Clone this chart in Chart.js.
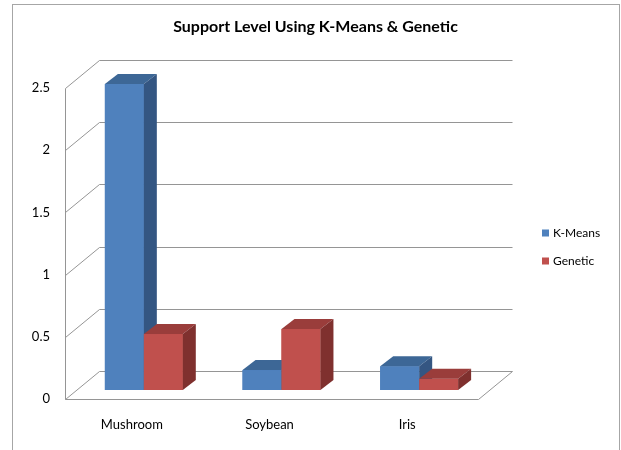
<!DOCTYPE html>
<html>
<head>
<meta charset="utf-8">
<title>Support Level Using K-Means &amp; Genetic</title>
<script src="https://cdn.jsdelivr.net/npm/chart.js@4/dist/chart.umd.min.js"></script>
<style>
  html, body { margin: 0; padding: 0; background: #ffffff; }
  #wrap { position: relative; width: 621px; height: 450px; }
</style>
</head>
<body>
<div id="wrap"><canvas id="chart" width="621" height="450"></canvas></div>
<script>
// Dataset names and measured support levels
const categories = ['Mushroom', 'Soybean', 'Iris'];
const seriesNames = ['K-Means', 'Genetic'];
const kMeansValues = [2.46, 0.16, 0.19];
const geneticValues = [0.45, 0.49, 0.09];
const valueTicks = [0, 0.5, 1, 1.5, 2, 2.5];

// Face colours for the 3-D bars: front, top, side
const faces = [
  { front: '#4f81bd', top: '#3d6796', side: '#345682' },
  { front: '#c0504d', top: '#9a3d3b', side: '#7f302e' }
];

const FONT = 'Lato, "Open Sans", sans-serif';
const FRONT = { dx: -10, dy: 9 };   // front plane relative to the bar plane
const BACK = { dx: 24, dy: -19 };   // back wall relative to the bar plane
const BAR_DEPTH = { dx: 13, dy: -10 };
const LINE = '#959595';

// Walls, floor and gridlines of the 3-D box
const boxPlugin = {
  id: 'box3d',
  beforeDraw(chart) {
    const ctx = chart.ctx;
    ctx.save();
    ctx.strokeStyle = '#a6a6a6';
    ctx.lineWidth = 1;
    ctx.strokeRect(12.5, 4.5, 607, 470);
    ctx.restore();
  },
  beforeDatasetsDraw(chart) {
    const { ctx, chartArea: a, scales: { y } } = chart;
    ctx.save();
    ctx.strokeStyle = LINE;
    ctx.lineWidth = 1;
    ctx.beginPath();
    valueTicks.forEach(v => {
      const py = Math.round(y.getPixelForValue(v));
      const fx = a.left + FRONT.dx, fy = py + FRONT.dy;
      const bx = a.left + BACK.dx, by = py + BACK.dy;
      ctx.moveTo(fx + 0.5, fy + 0.5);
      ctx.lineTo(bx + 0.5, by + 0.5);
      ctx.lineTo(a.right + BACK.dx + 0.5, by + 0.5);
    });
    // left wall front edge
    const top = Math.round(y.getPixelForValue(valueTicks[valueTicks.length - 1]));
    const zero = Math.round(y.getPixelForValue(0));
    ctx.moveTo(a.left + FRONT.dx + 0.5, top + FRONT.dy + 0.5);
    ctx.lineTo(a.left + FRONT.dx + 0.5, zero + FRONT.dy + 0.5);
    // floor front and right edges
    ctx.lineTo(a.right + FRONT.dx + 0.5, zero + FRONT.dy + 0.5);
    ctx.lineTo(a.right + BACK.dx + 0.5, zero + BACK.dy + 0.5);
    ctx.stroke();
    ctx.restore();
  },
  afterDatasetsDraw(chart) {
    const ctx = chart.ctx;
    const metas = chart.data.datasets.map((d, i) => chart.getDatasetMeta(i));
    ctx.save();
    categories.forEach((c, j) => {
      metas.forEach((meta, i) => {
        const el = meta.data[j];
        if (!el) return;
        const p = el.getProps(['x', 'y', 'base', 'width'], true);
        const l = p.x - p.width / 2, r = p.x + p.width / 2;
        const t = p.y, b = p.base;
        const f = faces[i];
        ctx.fillStyle = f.front;
        ctx.fillRect(l, t, r - l, b - t);
        ctx.fillStyle = f.top;
        ctx.beginPath();
        ctx.moveTo(l, t);
        ctx.lineTo(r, t);
        ctx.lineTo(r + BAR_DEPTH.dx, t + BAR_DEPTH.dy);
        ctx.lineTo(l + BAR_DEPTH.dx, t + BAR_DEPTH.dy);
        ctx.closePath();
        ctx.fill();
        ctx.fillStyle = f.side;
        ctx.beginPath();
        ctx.moveTo(r, t);
        ctx.lineTo(r + BAR_DEPTH.dx, t + BAR_DEPTH.dy);
        ctx.lineTo(r + BAR_DEPTH.dx, b + BAR_DEPTH.dy);
        ctx.lineTo(r, b);
        ctx.closePath();
        ctx.fill();
      });
    });
    ctx.restore();
  },
  afterDraw(chart) {
    // series key on the right
    const ctx = chart.ctx;
    ctx.save();
    ctx.font = '12px ' + FONT;
    ctx.textBaseline = 'middle';
    ctx.textAlign = 'left';
    chart.data.datasets.forEach((ds, i) => {
      const cy = 233 + i * 28;
      ctx.fillStyle = faces[i].front;
      ctx.fillRect(542, cy - 3.5, 7, 7);
      ctx.fillStyle = '#000000';
      ctx.fillText(ds.label, 553, cy);
    });
    ctx.restore();
  }
};

new Chart(document.getElementById('chart'), {
  type: 'bar',
  data: {
    labels: categories,
    datasets: [
      { label: seriesNames[0], data: kMeansValues, backgroundColor: faces[0].front, borderWidth: 0 },
      { label: seriesNames[1], data: geneticValues, backgroundColor: faces[1].front, borderWidth: 0 }
    ]
  },
  options: {
    responsive: false,
    animation: false,
    devicePixelRatio: 1,
    layout: { padding: { left: 10, right: 0, top: 0, bottom: 0 } },
    categoryPercentage: 0.566,
    barPercentage: 1,
    plugins: {
      legend: { display: false },
      tooltip: { enabled: false },
      title: {
        display: true,
        text: 'Support Level Using K-Means & Genetic',
        color: '#000000',
        font: { family: FONT, size: 16, weight: 'bold', lineHeight: 1.2 },
        padding: { top: 17.4, bottom: 42.4 }
      }
    },
    scales: {
      x: {
        grid: { display: false, drawTicks: false },
        border: { display: false },
        ticks: { color: '#000000', font: { family: FONT, size: 13 }, padding: 27, labelOffset: -12, maxRotation: 0 },
        afterFit(scale) { scale.height = 60; }
      },
      y: {
        min: 0,
        max: 2.5,
        grid: { display: false, drawTicks: false },
        border: { display: false },
        ticks: {
          stepSize: 0.5,
          color: '#000000',
          font: { family: FONT, size: 13 },
          padding: 25,
          labelOffset: 9,
          callback: (v) => String(v)
        },
        afterFit(scale) { scale.width = 65; }
      },
      // empty right-hand band that holds the series key
      keyBand: {
        type: 'linear',
        position: 'right',
        display: true,
        grid: { display: false, drawTicks: false },
        border: { display: false },
        ticks: { display: false },
        afterFit(scale) { scale.width = 133; }
      }
    }
  },
  plugins: [boxPlugin]
});
</script>
</body>
</html>
